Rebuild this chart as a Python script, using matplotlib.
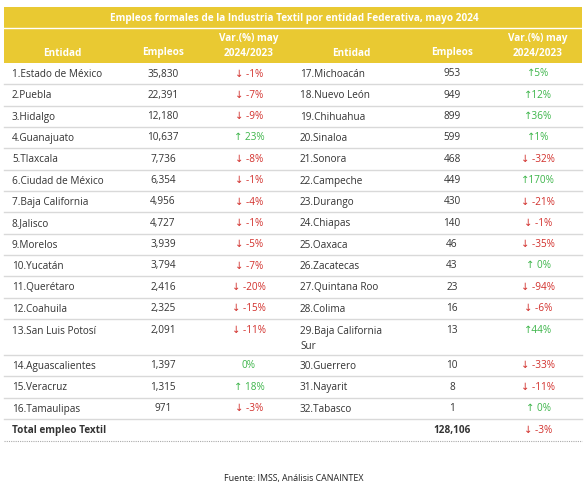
import matplotlib.pyplot as plt

left_names = ["1.Estado de México", "2.Puebla", "3.Hidalgo", "4.Guanajuato", "5.Tlaxcala",
              "6.Ciudad de México", "7.Baja California", "8.Jalisco", "9.Morelos", "10.Yucatán",
              "11.Querétaro", "12.Coahuila", "13.San Luis Potosí", "14.Aguascalientes",
              "15.Veracruz", "16.Tamaulipas"]
left_jobs = [35830, 22391, 12180, 10637, 7736, 6354, 4956, 4727, 3939, 3794,
             2416, 2325, 2091, 1397, 1315, 971]
left_var = ["↓ -1%", "↓ -7%", "↓ -9%", "↑ 23%", "↓ -8%", "↓ -1%", "↓ -4%", "↓ -1%",
            "↓ -5%", "↓ -7%", "↓ -20%", "↓ -15%", "↓ -11%", "0%", "↑ 18%", "↓ -3%"]

right_names = ["17.Michoacán", "18.Nuevo León", "19.Chihuahua", "20.Sinaloa", "21.Sonora",
               "22.Campeche", "23.Durango", "24.Chiapas", "25.Oaxaca", "26.Zacatecas",
               "27.Quintana Roo", "28.Colima", "29.Baja California\nSur", "30.Guerrero",
               "31.Nayarit", "32.Tabasco"]
right_jobs = [953, 949, 899, 599, 468, 449, 430, 140, 46, 43, 23, 16, 13, 10, 8, 1]
right_var = ["↑5%", "↑12%", "↑36%", "↑1%", "↓ -32%", "↑170%", "↓ -21%", "↓ -1%",
             "↓ -35%", "↑ 0%", "↓ -94%", "↓ -6%", "↑44%", "↓ -33%", "↓ -11%", "↑ 0%"]

total_label = "Total empleo Textil"
total_jobs = 128106
total_var = "↓ -3%"

title = "Empleos formales de la Industria Textil por entidad Federativa, mayo 2024"
source = "Fuente: IMSS, Análisis CANAINTEX"

# Style
YELLOW = "#E9C932"
RED = "#D2302C"
GREEN = "#3DB54A"
TEXT = "#333333"
LINE = "#D9D9D9"
FONT = ["Open Sans", "DejaVu Sans"]
FS = 7.2

# Layout in pixel units
W, H = 588, 500
x0, x1 = 4, 582
top = 7
title_bottom = 28
header_bottom = 63
row_h = 21.33
tall_h = 36
total_h = 22

fig = plt.figure(figsize=(W / 100, H / 100), dpi=100)
ax = fig.add_axes([0, 0, 1, 1])
ax.set_xlim(0, W)
ax.set_ylim(H, 0)
ax.axis("off")

# header bands
ax.add_patch(plt.Rectangle((x0, top), x1 - x0, header_bottom - top, color=YELLOW, lw=0))
ax.plot([x0, x1], [title_bottom, title_bottom], color="white", lw=1)
ax.text((x0 + x1) / 2 + 1, (top + title_bottom) / 2 + 0.5, title, ha="center", va="center",
        color="white", fontsize=7.2, fontweight="bold", family=FONT)

# column positions: (name_left, name_header_center, jobs_center, var_center)
cols = [(12, 62, 163, 249), (300, 351, 452, 538)]
for nx, hx, jx, vx in cols:
    ax.text(hx, 53, "Entidad", ha="center", va="center", color="white",
            fontsize=FS, fontweight="bold", family=FONT)
    ax.text(jx, 53, "Empleos", ha="center", va="center", color="white",
            fontsize=FS, fontweight="bold", family=FONT)
    ax.text(vx, 39, "Var.(%) may", ha="center", va="center", color="white",
            fontsize=FS, fontweight="bold", family=FONT)
    ax.text(vx, 53, "2024/2023", ha="center", va="center", color="white",
            fontsize=FS, fontweight="bold", family=FONT)


def var_color(s):
    return RED if "↓" in s else GREEN


y = header_bottom
for i in range(len(left_names)):
    h = tall_h if "\n" in left_names[i] + right_names[i] else row_h
    yc = y + 11 if h == row_h else y + 12
    for (nx, hx, jx, vx), names, jobs, var in [(cols[0], left_names, left_jobs, left_var),
                                              (cols[1], right_names, right_jobs, right_var)]:
        ax.text(nx, yc - 5, names[i], ha="left", va="top", color=TEXT,
                fontsize=FS, family=FONT, linespacing=1.5)
        ax.text(jx, yc, f"{jobs[i]:,}", ha="center", va="center", color=TEXT,
                fontsize=FS, family=FONT)
        ax.text(vx, yc, var[i], ha="center", va="center", color=var_color(var[i]),
                fontsize=FS, family=FONT)
    y += h
    ax.plot([x0, x1], [y, y], color=LINE, lw=1)

# total row
yc = y + total_h / 2 + 1
ax.text(cols[0][0], yc, total_label, ha="left", va="center", color=TEXT,
        fontsize=FS, fontweight="bold", family=FONT)
ax.text(cols[1][2], yc, f"{total_jobs:,}", ha="center", va="center", color=TEXT,
        fontsize=FS, fontweight="bold", family=FONT)
ax.text(cols[1][3], yc, total_var, ha="center", va="center", color=var_color(total_var),
        fontsize=FS, family=FONT)
y += total_h
ax.plot([x0, x1], [y, y], color="#AAAAAA", lw=0.8, ls=(0, (1, 1)))

ax.text(W / 2, 479, source, ha="center", va="center", color="#222222",
        fontsize=6.4, family=FONT)

fig.savefig("out.png", dpi=100)
